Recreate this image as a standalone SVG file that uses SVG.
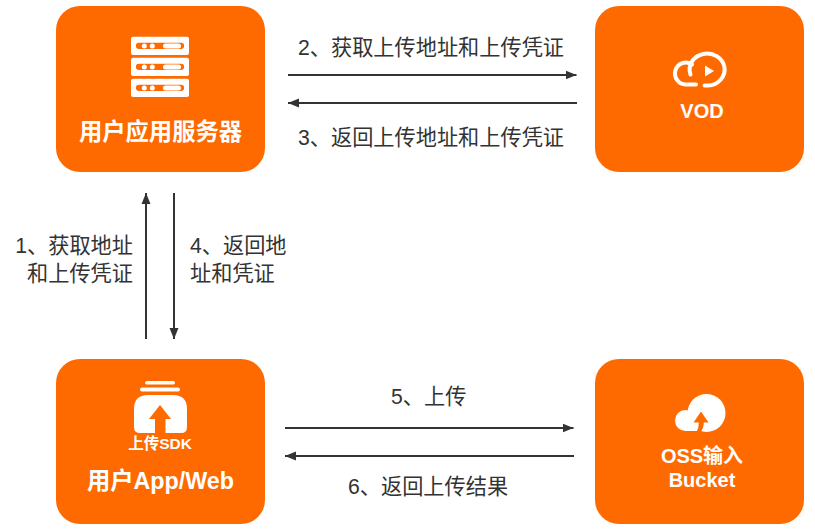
<svg xmlns="http://www.w3.org/2000/svg" width="815" height="532" viewBox="0 0 815 532">
<style>
.box{fill:#FF6A00}
.w{fill:#fff}
.o{fill:#FF6A00}
.t{font-family:"Liberation Sans","Noto Sans CJK SC",sans-serif}
.n{font-size:23.300px;font-weight:bold;fill:#fff;text-anchor:middle}
.l{font-size:21.200px;fill:#333}
.c{stroke:#333;stroke-width:2;fill:none;marker-end:url(#a)}
</style>
<defs>
<marker id="a" markerUnits="userSpaceOnUse" markerWidth="12" markerHeight="10" refX="11" refY="5" orient="auto"><path d="M0 0.5L11 5L0 9.500z" fill="#333"/></marker>
<path id="srv" fill-rule="evenodd" d="M133 0h54a2 2 0 0 1 2 2v14.300a2 2 0 0 1-2 2h-54a2 2 0 0 1-2-2V2a2 2 0 0 1 2-2zM139 6a2.500 2.500 0 0 0 0 6.300h42a3 3 0 0 0 0-6.300z"/>
</defs>
<rect width="815" height="532" fill="#fff"/>
<g id="connectors">
<path class="c" d="M288 75H576.500"/>
<path class="c" d="M577 103H288"/>
<path class="c" d="M146 339V193"/>
<path class="c" d="M174 193V339"/>
<path class="c" d="M285 428H573.500"/>
<path class="c" d="M574 456H285"/>
</g>
<g id="node-server">
<rect class="box" x="56" y="6" width="209" height="166" rx="24"/>
<g class="w">
<use href="#srv" y="36.700"/><use href="#srv" y="57.700"/><use href="#srv" y="78.700"/>
<circle cx="144.300" cy="46" r="2.500"/><circle cx="152.300" cy="46" r="2.500"/><rect x="163" y="43.500" width="18" height="5" rx="2.500"/>
<circle cx="144.300" cy="67" r="2.500"/><circle cx="152.300" cy="67" r="2.500"/><rect x="163" y="64.500" width="18" height="5" rx="2.500"/>
<circle cx="144.300" cy="88" r="2.500"/><circle cx="152.300" cy="88" r="2.500"/><rect x="163" y="85.500" width="18" height="5" rx="2.500"/>
</g>
<text class="t n" x="160.500" y="140">用户应用服务器</text>
</g>
<g id="node-vod">
<rect class="box" x="595" y="6" width="209" height="166" rx="24"/>
<path d="M696 84.500H686A10.800 11 0 1 1 692 64.500M690.500 74.500A17.500 16 0 1 1 708 85.500H704.500" fill="none" stroke="#fff" stroke-width="4" stroke-linecap="round"/>
<path class="w" d="M705 65.500V76.500L714 71z"/>
<text class="t n" x="702" y="118" style="font-size:20px">VOD</text>
</g>
<g id="node-app">
<rect class="box" x="56" y="359" width="209" height="165" rx="24"/>
<rect class="w" x="145" y="381" width="30" height="3.500" rx="1.700"/>
<rect class="w" x="140" y="387.500" width="40" height="4" rx="2"/>
<path class="w" d="M148 395H173Q187 395 187 409V427Q187 433 181 433H140Q134 433 134 427V409Q134 395 148 395z"/>
<path class="o" d="M160 405L171 419H165.500V433H155V419H149z"/>
<text class="t" x="160" y="449" text-anchor="middle" font-size="15.500" font-weight="bold" fill="#fff">上传SDK</text>
<text class="t n" x="160.500" y="489">用户App/Web</text>
</g>
<g id="node-oss">
<rect class="box" x="595" y="359" width="209" height="165" rx="24"/>
<circle class="w" cx="706.500" cy="413" r="19"/>
<circle class="w" cx="685.500" cy="420.500" r="10.500"/>
<path class="w" d="M685 424H712V431H685z"/>
<path class="o" d="M701 411.500L708.500 422.500H703.800Q703.800 428 700.500 432H696.500Q698.800 428 698.800 422.500H693.500z"/>
<text class="t n" x="702" y="463" style="font-size:20px">OSS输入</text>
<text class="t n" x="702" y="487" style="font-size:20px">Bucket</text>
</g>
<g id="labels">
<text class="t l" x="298" y="55">2、获取上传地址和上传凭证</text>
<text class="t l" x="298" y="145">3、返回上传地址和上传凭证</text>
<text class="t l" x="133" y="253" text-anchor="end">1、获取地址</text>
<text class="t l" x="133" y="281" text-anchor="end">和上传凭证</text>
<text class="t l" x="190" y="253">4、返回地</text>
<text class="t l" x="190" y="281">址和凭证</text>
<text class="t l" x="391" y="404">5、上传</text>
<text class="t l" x="348" y="494">6、返回上传结果</text>
</g>
</svg>
